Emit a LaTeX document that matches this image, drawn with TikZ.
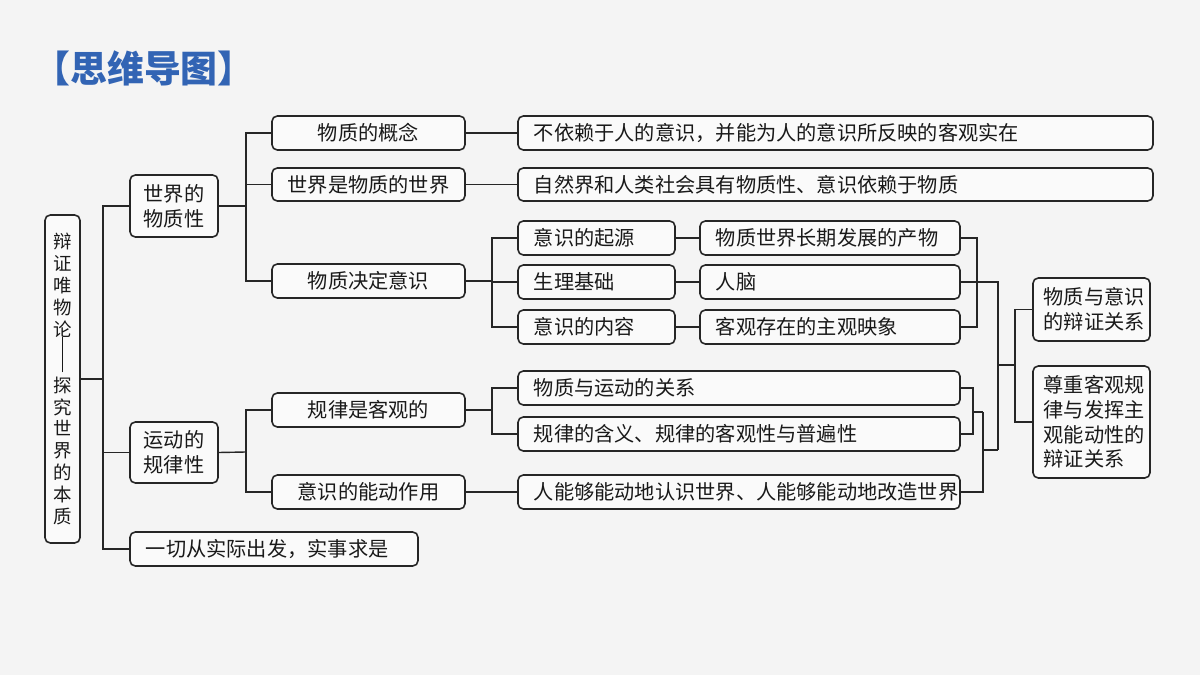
\documentclass[tikz,border=0pt]{standalone}
\usepackage{fontspec}
\setmainfont{Noto Sans CJK SC}
\usetikzlibrary{fit}
\begin{document}
\begin{tikzpicture}[x=0.02cm,y=-0.02cm,
  box/.style={draw=black!85,line width=0.9pt,rounded corners=3pt,inner sep=0pt,fill=white!60!gray!10},
  ln/.style={draw=black!85,line width=0.8pt},
  lt/.style={font=\fontsize{11.5pt}{14pt}\selectfont,text=black!90}]
\useasboundingbox[fill=gray!9] (0,0) rectangle (1200,675);
\node[anchor=west,font=\fontsize{21pt}{23pt}\selectfont\bfseries,text={rgb,255:red,50;green,100;blue,180},inner sep=0pt] (title) at (33,68) {【思维导图】};
\newcommand\bx[6]{\node[box,fit={(#2,#3)(#4,#5)}] (#1) {}; \node[lt,align=center] (#1t) at (#1.center) {#6};}
\newcommand\bxl[6]{\node[box,fit={(#2,#3)(#4,#5)}] (#1) {}; \node[lt,anchor=west,align=left] (#1t) at ([xshift=6pt]#1.west) {#6};}
\node[box,fit={(45,215)(80,543)}] (root) {};
\node[text=black!90,font=\fontsize{10.5pt}{12.4pt}\selectfont,align=center,inner sep=0pt] (roott) at (root.center) {辩\\证\\唯\\物\\论\\[-1pt]\rule{0.6pt}{20pt}\\[-1pt]探\\究\\世\\界\\的\\本\\质};
\bx{sj}{130}{175}{218}{237}{世界的\\物质性}
\bx{yd}{130}{422}{218}{483}{运动的\\规律性}
\bxl{yq}{130}{532}{418}{566}{一切从实际出发，实事求是}
\bx{gn}{272}{116}{465}{150}{物质的概念}
\bx{sw}{272}{168}{465}{201}{世界是物质的世界}
\bx{jd}{272}{264}{465}{298}{物质决定意识}
\bx{gl}{272}{393}{465}{427}{规律是客观的}
\bx{nd}{272}{475}{465}{509}{意识的能动作用}
\bxl{gnr}{518}{116}{1153}{150}{不依赖于人的意识，并能为人的意识所反映的客观实在}
\bxl{swr}{518}{168}{1153}{201}{自然界和人类社会具有物质性、意识依赖于物质}
\bxl{a1}{518}{221}{675}{255}{意识的起源}
\bxl{a2}{518}{265}{675}{299}{生理基础}
\bxl{a3}{518}{310}{675}{344}{意识的内容}
\bxl{c1}{700}{221}{960}{255}{物质世界长期发展的产物}
\bxl{c2}{700}{265}{960}{299}{人脑}
\bxl{c3}{700}{310}{960}{344}{客观存在的主观映象}
\bxl{d1}{518}{371}{960}{405}{物质与运动的关系}
\bxl{d2}{518}{417}{960}{451}{规律的含义、规律的客观性与普遍性}
\bxl{e1}{518}{475}{960}{509}{人能够能动地认识世界、人能够能动地改造世界}
\node[box,fit={(1033,278)(1150,341)}] (m1) {};
\node[lt,align=left,anchor=west] (m1t) at ([xshift=3pt]m1.west) {物质与意识\\的辩证关系};
\node[box,fit={(1033,366)(1150,478)}] (m2) {};
\node[lt,align=left,anchor=west] (m2t) at ([xshift=3pt]m2.west) {尊重客观规\\律与发挥主\\观能动性的\\辩证关系};
% left connectors
\coordinate (b1) at (103,379);
\draw[ln] (root.east) -- (b1);
\foreach \c in {sj,yd,yq} \draw[ln] (b1) |- (\c.west);
\coordinate (b2) at (246,206);
\draw[ln] (sj.east) -- (b2);
\foreach \c in {gn,sw,jd} \draw[ln] (b2) |- (\c.west);
\coordinate (b3) at (246,452);
\draw[ln] (yd.east) -- (b3);
\foreach \c in {gl,nd} \draw[ln] (b3) |- (\c.west);
\draw[ln] (gn.east) -- (gnr.west);
\draw[ln] (sw.east) -- (swr.west);
\draw[ln] (nd.east) -- (e1.west);
\coordinate (b4) at (492,281);
\draw[ln] (jd.east) -- (b4);
\foreach \c in {a1,a2,a3} \draw[ln] (b4) |- (\c.west);
\coordinate (b5) at (492,410);
\draw[ln] (gl.east) -- (b5);
\foreach \c in {d1,d2} \draw[ln] (b5) |- (\c.west);
\draw[ln] (a1.east) -- (c1.west);
\draw[ln] (a2.east) -- (c2.west);
\draw[ln] (a3.east) -- (c3.west);
% right connectors
\coordinate (r1) at (977,282);
\coordinate (r2) at (998,282);
\coordinate (r3) at (998,450);
\coordinate (rj) at (998,365);
\coordinate (rk) at (1015,365);
\draw[ln] (c1.east) -| (r1);
\draw[ln] (c3.east) -| (r1);
\draw[ln] (c2.east) -- (r2) -- (r3);
\coordinate (s1) at (973,412);
\coordinate (s2) at (983,412);
\coordinate (s3) at (983,450);
\draw[ln] (d1.east) -| (s1);
\draw[ln] (d2.east) -| (s1);
\draw[ln] (s1) -- (s2);
\draw[ln] (e1.east) -| (s2);
\draw[ln] (s3) -- (r3);
\draw[ln] (rj) -- (rk);
\draw[ln] (rk) |- (m1.west);
\draw[ln] (rk) |- (m2.west);
\end{tikzpicture}
\end{document}
